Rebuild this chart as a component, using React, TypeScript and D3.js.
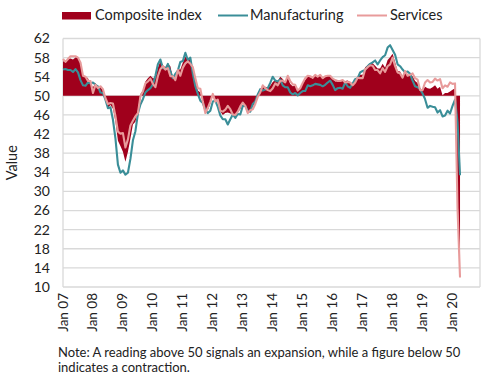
import React from "react";
import * as d3 from "d3";

// Monthly data Jan 2007 – Apr 2020
const composite: number[] = [
  // 2007
  57.2, 57.3, 57.6, 57.8, 57.6, 58.0, 58.2, 56.6, 54.2, 54.1, 53.7, 52.5,
  // 2008
  51.8, 52.7, 51.7, 51.9, 51.1, 49.1, 47.5, 48.1, 47.3, 44.6, 40.6, 39.5,
  // 2009
  38.3, 36.2, 38.3, 41.1, 44.0, 44.6, 47.0, 50.4, 51.1, 53.0, 53.7, 54.2,
  // 2010
  53.7, 53.7, 55.9, 57.3, 56.4, 56.0, 56.7, 56.2, 53.8, 53.8, 55.5, 55.5,
  // 2011
  57.0, 58.2, 57.6, 57.8, 55.8, 53.3, 51.1, 50.7, 49.1, 47.1, 47.0, 48.3,
  // 2012
  50.4, 49.3, 49.1, 46.7, 46.0, 46.4, 46.5, 46.3, 46.1, 45.7, 46.5, 47.2,
  // 2013
  48.6, 47.9, 46.5, 46.9, 47.7, 48.7, 50.5, 51.5, 52.2, 51.9, 51.7, 52.1,
  // 2014
  52.9, 53.3, 53.1, 54.0, 53.5, 52.8, 53.8, 52.5, 52.0, 52.1, 51.1, 51.4,
  // 2015
  52.6, 53.3, 54.0, 53.9, 53.6, 54.2, 53.9, 54.3, 53.6, 53.9, 54.2, 54.3,
  // 2016
  53.6, 53.0, 53.1, 53.0, 53.1, 53.1, 53.2, 52.9, 52.6, 53.3, 53.9, 54.4,
  // 2017
  54.4, 56.0, 56.4, 56.8, 56.8, 56.3, 55.7, 55.7, 56.7, 55.9, 57.5, 58.1,
  // 2018
  58.8, 57.1, 55.2, 55.1, 54.1, 54.9, 54.3, 54.5, 54.1, 53.1, 52.7, 51.1,
  // 2019
  51.0, 51.9, 51.6, 51.5, 51.8, 52.2, 51.5, 51.9, 50.1, 50.6, 50.6, 50.9,
  // 2020
  51.3, 51.6, 29.7, 13.6,
];

const manufacturing: number[] = [
  55.5, 55.6, 55.4, 55.4, 55.0, 55.6, 54.9, 53.3, 52.2, 52.1, 52.8, 52.6,
  52.8, 52.3, 52.0, 50.7, 50.6, 49.2, 47.4, 47.6, 45.0, 41.1, 35.6, 33.9,
  34.4, 33.5, 33.9, 36.8, 40.7, 42.6, 46.3, 48.2, 49.3, 50.7, 51.2, 51.6,
  52.4, 54.2, 56.6, 57.6, 55.8, 55.6, 56.7, 55.1, 53.7, 54.6, 55.3, 57.1,
  57.3, 59.0, 57.5, 58.0, 54.6, 52.0, 50.4, 49.0, 48.5, 47.1, 46.4, 46.9,
  48.8, 49.0, 47.7, 45.9, 45.1, 45.1, 44.0, 45.1, 46.1, 45.4, 46.2, 46.1,
  47.9, 47.9, 46.8, 46.7, 48.3, 48.8, 50.3, 51.4, 51.1, 51.3, 51.6, 52.7,
  54.0, 53.2, 53.0, 53.4, 52.2, 51.8, 51.8, 50.7, 50.3, 50.6, 50.1, 50.6,
  51.0, 51.0, 52.2, 52.0, 52.2, 52.5, 52.4, 52.3, 52.0, 52.3, 52.8, 53.2,
  52.3, 51.2, 51.6, 51.7, 51.5, 52.8, 52.0, 51.7, 52.6, 53.5, 53.7, 54.9,
  55.2, 55.4, 56.2, 56.7, 57.0, 57.4, 56.6, 57.4, 58.1, 58.5, 60.1, 60.6,
  59.6, 58.6, 56.6, 56.2, 55.5, 54.9, 55.1, 54.6, 53.2, 52.0, 51.8, 51.4,
  50.5, 49.3, 47.5, 47.9, 47.7, 47.6, 46.5, 47.0, 45.7, 45.9, 46.9, 46.3,
  47.9, 49.2, 44.5, 33.4,
];

const services: number[] = [
  57.7, 57.1, 57.7, 58.3, 58.3, 58.3, 58.0, 57.0, 54.2, 54.0, 53.1, 53.1,
  50.6, 52.3, 51.6, 52.0, 51.4, 49.5, 48.3, 48.5, 48.4, 45.8, 42.5, 42.1,
  42.2, 39.2, 40.9, 43.8, 44.8, 45.7, 46.4, 49.9, 50.9, 52.6, 53.0, 53.6,
  52.5, 51.8, 54.1, 55.6, 56.2, 55.5, 55.8, 54.1, 54.1, 53.3, 55.4, 54.2,
  55.9, 56.8, 57.2, 56.7, 56.0, 53.7, 51.6, 51.5, 48.8, 46.4, 47.5, 48.8,
  50.4, 48.8, 49.2, 46.9, 46.7, 47.1, 47.9, 47.2, 46.1, 46.0, 46.7, 47.8,
  48.6, 47.9, 46.4, 47.0, 47.2, 48.3, 49.8, 50.7, 52.2, 51.6, 51.2, 51.0,
  51.6, 52.6, 52.2, 53.1, 53.2, 52.8, 54.2, 53.1, 52.4, 52.3, 51.1, 51.6,
  52.7, 53.7, 54.2, 54.1, 53.8, 54.4, 54.0, 54.4, 53.7, 54.1, 54.2, 54.2,
  53.6, 53.3, 53.1, 53.1, 53.3, 52.8, 52.9, 52.8, 52.2, 52.8, 53.8, 53.7,
  53.7, 55.5, 56.0, 56.4, 56.3, 55.4, 55.4, 54.7, 55.8, 55.0, 56.2, 56.6,
  58.0, 56.2, 54.9, 54.7, 53.8, 55.2, 54.2, 54.4, 54.7, 53.7, 53.4, 51.2,
  51.2, 52.8, 53.3, 52.8, 52.9, 53.6, 53.2, 53.5, 51.6, 52.2, 51.9, 52.8,
  52.5, 52.6, 26.4, 12.0,
];

const yTicks: number[] = [10, 14, 18, 22, 26, 30, 34, 38, 42, 46, 50, 54, 58, 62];
const xTickLabels: string[] = [
  "Jan 07", "Jan 08", "Jan 09", "Jan 10", "Jan 11", "Jan 12", "Jan 13",
  "Jan 14", "Jan 15", "Jan 16", "Jan 17", "Jan 18", "Jan 19", "Jan 20",
];
const legendLabels: string[] = ["Composite index", "Manufacturing", "Services"];
const noteLines: string[] = [
  "Note: A reading above 50 signals an expansion, while a figure below 50",
  "indicates a contraction.",
];

const W = 490;
const H = 381;
const FONT = "Lato, 'Open Sans', sans-serif";
const RED = "#a0001c";
const TEAL = "#3a8e98";
const PINK = "#e89b9b";
const GRID = "#d9d9d9";

export default function App() {
  const left = 63;
  const right = 480;
  const top = 38.5;
  const bottom = 287;

  const x = d3.scaleLinear().domain([0, 167]).range([left, right]);
  const y = d3.scaleLinear().domain([10, 62]).range([bottom, top]);

  const area = d3
    .area<number>()
    .x((_, i) => x(i))
    .y0(y(50))
    .y1((d) => y(d));
  const line = d3
    .line<number>()
    .x((_, i) => x(i))
    .y((d) => y(d));

  return (
    <svg width={W} height={H} style={{ position: "absolute", left: 0, top: 0 }}>
      <rect x={0} y={0} width={W} height={H} fill="#fff" />
      {/* gridlines */}
      {yTicks.map((t) => (
        <line key={t} x1={left} x2={right} y1={y(t)} y2={y(t)} stroke={GRID} strokeWidth={1.3} />
      ))}
      <line x1={left} x2={left} y1={top} y2={bottom} stroke={GRID} strokeWidth={1.3} />
      <line x1={right} x2={right} y1={top} y2={bottom} stroke={GRID} strokeWidth={1.3} />

      {/* series */}
      <path d={area(composite) || ""} fill={RED} />
      <path d={line(manufacturing) || ""} fill="none" stroke={TEAL} strokeWidth={2.1} strokeLinejoin="round" />
      <path d={line(services) || ""} fill="none" stroke={PINK} strokeWidth={2.1} strokeLinejoin="round" />

      {/* y tick labels */}
      {yTicks.map((t) => (
        <text key={t} x={50} y={y(t)} dy="0.35em" textAnchor="end" fontFamily={FONT} fontSize={14} fill="#222">
          {t}
        </text>
      ))}
      {/* x tick labels */}
      {xTickLabels.map((lab, i) => (
        <text
          key={lab}
          transform={`translate(${x(i * 12) + 4.5},293) rotate(-90)`}
          textAnchor="end"
          fontFamily={FONT}
          fontSize={13.5}
          fill="#222"
        >
          {lab}
        </text>
      ))}
      {/* axis title */}
      <text transform={`translate(17,${(top + bottom) / 2}) rotate(-90)`} textAnchor="middle" fontFamily={FONT} fontSize={14.5} fill="#222">
        Value
      </text>

      {/* legend */}
      <rect x={62} y={12} width={29} height={7.5} fill={RED} />
      <text x={95} y={20} fontFamily={FONT} fontSize={14.5} fill="#222">{legendLabels[0]}</text>
      <line x1={218} x2={248} y1={15.5} y2={15.5} stroke={TEAL} strokeWidth={2} />
      <text x={250} y={20} fontFamily={FONT} fontSize={14.5} fill="#222">{legendLabels[1]}</text>
      <line x1={357} x2={387} y1={15.5} y2={15.5} stroke={PINK} strokeWidth={2} />
      <text x={390} y={20} fontFamily={FONT} fontSize={14.5} fill="#222">{legendLabels[2]}</text>

      {/* note */}
      {noteLines.map((l, i) => (
        <text key={i} x={58} y={357 + i * 14.5} fontFamily={FONT} fontSize={13} fill="#222">
          {l}
        </text>
      ))}
    </svg>
  );
}
